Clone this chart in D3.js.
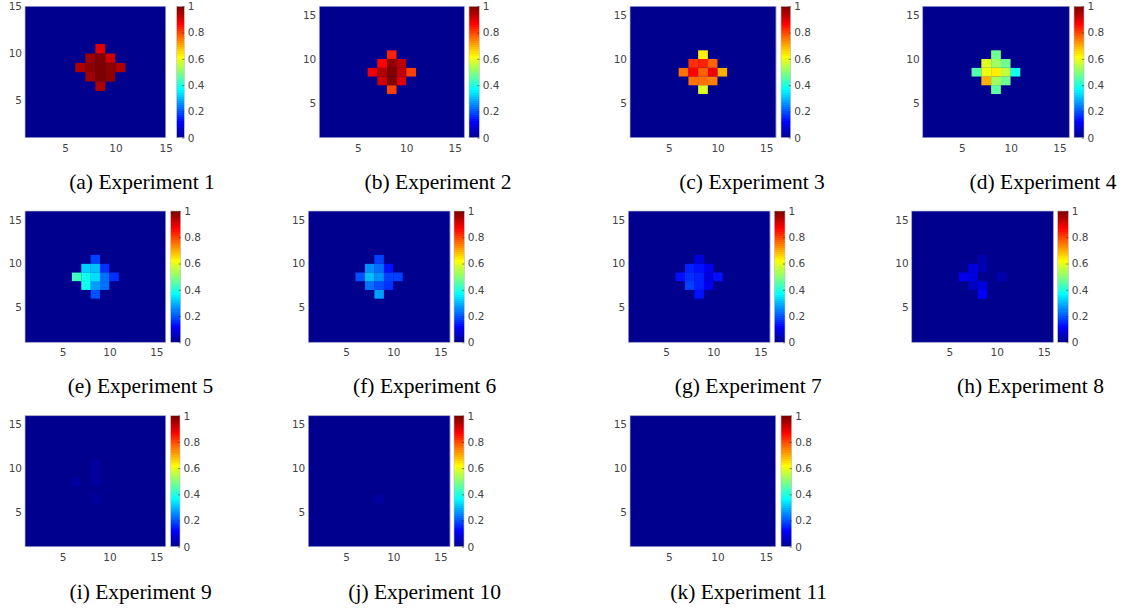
<!DOCTYPE html>
<html>
<head>
<meta charset="utf-8">
<script src="https://cdn.jsdelivr.net/npm/d3@7"></script>
<style>
  html, body { margin: 0; padding: 0; background: #fff; }
  svg { display: block; }
  .tick text { font-family: "DejaVu Sans", sans-serif; font-size: 10.5px; fill: #444; }
</style>
</head>
<body>
<svg id="chart" width="1125" height="611"></svg>
<script>
// cells of the diamond, lower-left corner of each cell in grid units
const cellCol = [8, 7, 8, 9, 6, 7, 8, 9, 10, 7, 8, 9, 8];
const cellRow = [10, 9, 9, 9, 8, 8, 8, 8, 8, 7, 7, 7, 6];

// value of each diamond cell, one array per experiment (same order as cellCol/cellRow)
const exp1 = [0.90, 0.96, 0.99, 0.91, 0.95, 0.97, 1.00, 0.98, 0.94, 0.96, 0.99, 0.97, 0.95];
const exp2 = [0.84, 0.87, 0.98, 0.93, 0.88, 0.94, 1.00, 0.93, 0.80, 0.92, 0.99, 0.90, 0.81];
const exp3 = [0.64, 0.82, 0.84, 0.77, 0.76, 0.86, 0.78, 0.88, 0.69, 0.76, 0.76, 0.74, 0.58];
const exp4 = [0.48, 0.58, 0.52, 0.48, 0.45, 0.60, 0.63, 0.56, 0.38, 0.70, 0.52, 0.47, 0.46];
const exp5 = [0.18, 0.32, 0.31, 0.16, 0.43, 0.38, 0.33, 0.22, 0.17, 0.38, 0.27, 0.22, 0.20];
const exp6 = [0.18, 0.26, 0.22, 0.13, 0.20, 0.30, 0.26, 0.18, 0.18, 0.22, 0.20, 0.17, 0.27];
const exp7 = [0.09, 0.15, 0.14, 0.10, 0.14, 0.17, 0.15, 0.09, 0.13, 0.18, 0.15, 0.10, 0.14];
const exp8 = [0.04, 0.08, 0.04, 0.01, 0.10, 0.08, 0.01, 0.01, 0.04, 0.05, 0.08, 0.01, 0.11];
const exp9 = [0.025, 0, 0.025, 0, 0.03, 0, 0.025, 0, 0, 0, 0, 0, 0.03];
const exp10 = [0, 0, 0, 0, 0, 0, 0, 0, 0, 0, 0, 0, 0.025];
const exp11 = [0, 0, 0, 0, 0, 0, 0, 0, 0, 0, 0, 0, 0];
const experiments = [exp1, exp2, exp3, exp4, exp5, exp6, exp7, exp8, exp9, exp10, exp11];

// axis extent of each panel and tick labels
const gridMax = [15, 16, 16, 16, 16, 16, 16, 16, 16, 16, 16];
const axisTicks = [5, 10, 15];
const colorTicks = [0, 0.2, 0.4, 0.6, 0.8, 1];
const captions = ["(a) Experiment 1", "(b) Experiment 2", "(c) Experiment 3", "(d) Experiment 4",
                  "(e) Experiment 5", "(f) Experiment 6", "(g) Experiment 7", "(h) Experiment 8",
                  "(i) Experiment 9", "(j) Experiment 10", "(k) Experiment 11"];

// layout (pixels)
const plotLeft  = [25, 319.3, 630, 922.7, 25, 308.3, 628.3, 911.7, 25, 308.3, 630];
const plotRight = [165.7, 464.3, 776, 1069.3, 165.7, 450, 770, 1053.3, 165.7, 450, 775.7];
const cbLeft    = [176.7, 469, 781, 1074, 170.7, 454, 774.3, 1057.7, 170.7, 454, 781];
const cbRight   = [184.3, 479.3, 790.7, 1084, 180.7, 464.3, 785, 1068.3, 180, 464, 791.7];
const capX      = [142, 438, 752, 1043, 140.5, 424.7, 748.3, 1030.5, 140.6, 424.7, 748.7];
const rowTop    = [6.3, 211, 415.7];
const rowBottom = [137.7, 342.3, 546.7];
const capBase   = [188.7, 392.5, 598.5];

// MATLAB jet(64)
function jetColors(m) {
    var n = Math.ceil(m / 4), u = [];
    for (var k = 1; k <= n; k++) u.push(k / n);
    for (var k = 1; k < n; k++) u.push(1);
    for (var k = n; k >= 1; k--) u.push(k / n);
    var off = Math.ceil(n / 2) - (m % 4 === 1 ? 1 : 0);
    var r = new Array(m).fill(0), g = new Array(m).fill(0), b = new Array(m).fill(0);
    u.forEach(function (v, k) {
        var gi = off + k + 1;
        if (gi >= 1 && gi <= m) g[gi - 1] = v;
        if (gi + n >= 1 && gi + n <= m) r[gi + n - 1] = v;
        if (gi - n >= 1 && gi - n <= m) b[gi - n - 1] = v;
    });
    return r.map(function (_, i) {
        return d3.rgb(r[i] * 255, g[i] * 255, b[i] * 255).formatHex();
    });
}
const jet = jetColors(64);
const color = d3.scaleQuantize().domain([0, 1]).range(jet);

const svg = d3.select("#chart");

// one gradient for all colorbars, built from the same 64 colours
var grad = svg.append("defs").append("linearGradient")
    .attr("id", "jetbar").attr("x1", 0).attr("y1", 1).attr("x2", 0).attr("y2", 0);
jet.forEach(function (c, i) {
    grad.append("stop").attr("offset", i / jet.length).attr("stop-color", c);
    grad.append("stop").attr("offset", (i + 1) / jet.length).attr("stop-color", c);
});

experiments.forEach(function (vals, p) {
    var row = Math.floor(p / 4);
    var top = rowTop[row], bottom = rowBottom[row];
    var x = d3.scaleLinear().domain([1, gridMax[p]]).range([plotLeft[p], plotRight[p]]);
    var y = d3.scaleLinear().domain([1, gridMax[p]]).range([bottom, top]);
    var g = svg.append("g");

    // grid cells
    var cells = [];
    for (var c = 1; c < gridMax[p]; c++) {
        for (var r = 1; r < gridMax[p]; r++) {
            var v = 0;
            cellCol.forEach(function (cc, i) { if (cc === c && cellRow[i] === r) v = vals[i]; });
            cells.push({ c: c, r: r, v: v });
        }
    }
    g.append("rect")
        .attr("x", x(1)).attr("y", y(gridMax[p]))
        .attr("width", x(gridMax[p]) - x(1)).attr("height", y(1) - y(gridMax[p]))
        .attr("fill", color(0));
    g.selectAll("rect.cell")
        .data(cells)
        .enter().append("rect")
        .attr("class", "cell")
        .attr("x", function (d) { return x(d.c); })
        .attr("y", function (d) { return y(d.r + 1); })
        .attr("width", function (d) { return x(d.c + 1) - x(d.c) + 0.15; })
        .attr("height", function (d) { return y(d.r) - y(d.r + 1) + 0.15; })
        .attr("fill", function (d) { return color(d.v); });
    g.append("rect")
        .attr("x", x(1)).attr("y", y(gridMax[p]))
        .attr("width", x(gridMax[p]) - x(1)).attr("height", y(1) - y(gridMax[p]))
        .attr("fill", "none").attr("stroke", "#c4c4dc").attr("stroke-width", 0.7);

    // axes
    var xAxis = g.append("g")
        .attr("transform", "translate(0," + bottom + ")")
        .call(d3.axisBottom(x).tickValues(axisTicks).tickSize(0).tickPadding(6.5));
    xAxis.select(".domain").remove();
    var yAxis = g.append("g")
        .attr("transform", "translate(" + plotLeft[p] + ",0)")
        .call(d3.axisLeft(y).tickValues(axisTicks).tickSize(0).tickPadding(3));
    yAxis.select(".domain").remove();

    // colorbar
    var cy = d3.scaleLinear().domain([0, 1]).range([bottom, top]);
    g.append("rect")
        .attr("x", cbLeft[p]).attr("y", cy(1))
        .attr("width", cbRight[p] - cbLeft[p]).attr("height", cy(0) - cy(1))
        .attr("fill", "url(#jetbar)")
        .attr("stroke", "#bdbdbd").attr("stroke-width", 0.6);
    var cAxis = g.append("g")
        .attr("transform", "translate(" + cbRight[p] + ",0)")
        .call(d3.axisRight(cy).tickValues(colorTicks).tickSize(-2).tickPadding(3.5)
            .tickFormat(function (d) { return d === 0 || d === 1 ? String(d) : d3.format(".1f")(d); }));
    cAxis.select(".domain").remove();
    cAxis.selectAll(".tick line").attr("stroke", "#333").attr("stroke-width", 0.6);

    // caption
    g.append("text")
        .attr("x", capX[p])
        .attr("y", capBase[row])
        .attr("text-anchor", "middle")
        .attr("font-family", "'Liberation Serif', 'Times New Roman', 'DejaVu Serif', serif")
        .attr("font-size", 21.5)
        .attr("fill", "#000")
        .text(captions[p]);
});
</script>
</body>
</html>
